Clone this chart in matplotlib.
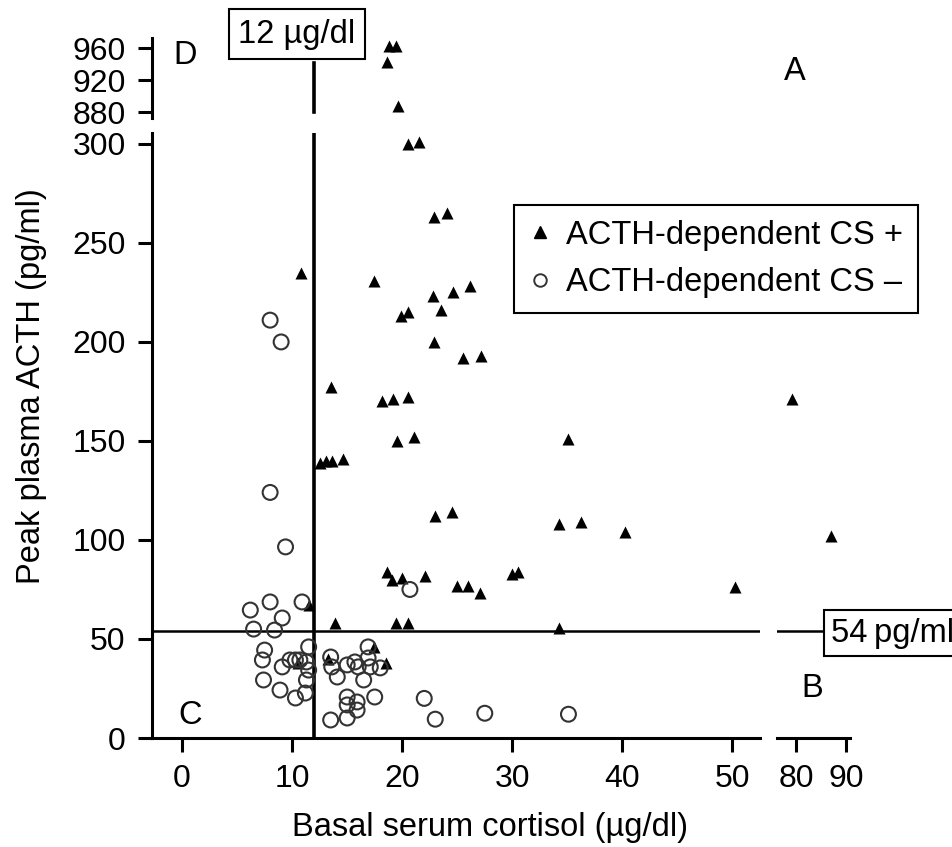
import matplotlib
matplotlib.use('Agg')
import matplotlib.pyplot as plt
from matplotlib.lines import Line2D

plt.rcParams['font.family'] = ['Liberation Sans', 'DejaVu Sans']

# ACTH-dependent CS + (filled triangles), basal cortisol (ug/dl) vs peak ACTH (pg/ml)
pos_x = [18.8, 19.4, 18.6, 19.6,
         20.5, 21.5, 22.9, 24.1, 10.8, 17.4, 26.2, 22.8, 24.6, 23.5, 19.9, 20.5,
         22.9, 25.5, 27.2, 13.5, 18.2, 19.2, 20.5, 19.5, 21.1,
         12.5, 13.1, 13.6, 14.6, 23.0, 24.5, 34.2, 36.2, 40.2, 50.2, 35.1,
         18.6, 19.1, 20.0, 22.1, 25.0, 26.0, 27.1, 30.0, 30.5,
         13.9, 19.4, 20.5, 34.2, 11.5, 17.4, 18.5, 13.3, 10.5,
         79.2, 87.0]
pos_y = [962, 962, 943, 887,
         300, 301, 263, 265, 235, 231, 228, 223, 225, 216, 213, 215,
         200, 192, 193, 177, 170, 171, 172, 150, 152,
         139, 140, 140, 141, 112, 114, 108, 109, 104, 76, 151,
         84, 80, 81, 82, 77, 77, 73, 83, 84,
         58, 58, 58, 55.5, 67, 46, 38, 40, 38,
         171, 102]

# ACTH-dependent CS - (open circles)
neg_x = [8.0, 9.0, 8.0, 9.4, 6.2, 8.0, 10.9, 9.1, 6.5, 8.4, 7.5, 7.3, 11.5,
         9.1, 9.8, 10.3, 10.7, 11.3, 7.4, 8.9, 10.3, 11.2, 11.3, 11.5,
         13.5, 13.6, 14.1, 15.0, 15.7, 16.0, 16.9, 16.9, 17.1, 18.0, 16.5, 17.5,
         15.0, 15.0, 15.9, 15.9, 15.0, 13.5, 20.7, 22.0, 23.0, 27.5, 35.1]
neg_y = [211, 200, 124, 96.5, 64.6, 68.7, 68.7, 60.6, 55, 54.5, 44.4, 39.4, 46,
         35.9, 39.4, 39.4, 39.4, 38.4, 29.3, 24.2, 20.2, 22.7, 29.3, 34.3,
         40.9, 35.9, 30.8, 36.9, 38.4, 35.9, 46, 40.4, 35.9, 35.4, 29.3, 20.7,
         20.7, 16.7, 18.2, 14.1, 10.1, 9.1, 75, 20, 9.5, 12.5, 12]

main_xticks = [0, 10, 20, 30, 40, 50]
right_xticks = [80, 90]
main_yticks = [0, 50, 100, 150, 200, 250, 300]
top_yticks = [880, 920, 960]
cortisol_cut = 12
acth_cut = 54

W, H = 953, 847
fig = plt.figure(figsize=(W / 100, H / 100), dpi=100)

def box(l, t, r, b):
    return [l / W, 1 - b / H, (r - l) / W, (b - t) / H]

ax = fig.add_axes(box(152, 133, 760, 738))
ax_top = fig.add_axes(box(152, 38, 760, 118))
ax_r = fig.add_axes(box(777, 133, 850, 738))

fs = 23.5
tri_kw = dict(marker='^', s=75, color='black', linewidths=0, zorder=3)
circ_kw = dict(marker='o', s=115, facecolors='none', edgecolors='#333333',
               linewidths=1.5, zorder=3)

for a in (ax, ax_top, ax_r):
    a.scatter(pos_x, pos_y, **tri_kw)
    a.scatter(neg_x, neg_y, **circ_kw)
    for s in a.spines.values():
        s.set_linewidth(2.2)
    a.spines['top'].set_visible(False)
    a.spines['right'].set_visible(False)
    a.tick_params(labelsize=23, length=10, width=2.2, pad=9)

ax.set_xlim(-2.73, 52.5)
ax.set_ylim(0, 305.5)
ax.set_xticks(main_xticks)
ax.set_yticks(main_yticks)

ax_top.set_xlim(-2.73, 52.5)
ax_top.set_ylim(872.5, 972.5)
ax_top.set_yticks(top_yticks)
ax_top.spines['bottom'].set_visible(False)
ax_top.set_xticks([])

ax_r.set_xlim(76.2, 90.8)
ax_r.set_ylim(0, 305.5)
ax_r.set_xticks(right_xticks)
ax_r.spines['left'].set_visible(False)
ax_r.set_yticks([])

# cut-off lines
ax.axvline(cortisol_cut, color='black', lw=2.6, zorder=2)
ax_top.plot([cortisol_cut, cortisol_cut], [880, 941], color='black', lw=2.6)
ax.axhline(acth_cut, color='black', lw=1.8, zorder=2)
ax_r.plot([76.2, 85.6], [acth_cut, acth_cut], color='black', lw=1.8)

fig.text(297 / W, 1 - 34 / H, '12 µg/dl', fontsize=fs, ha='center', va='center',
         bbox=dict(boxstyle='square,pad=0.28', fc='white', ec='black', lw=1.5))
fig.text(831 / W, 1 - 633 / H, '54\u2009pg/ml', fontsize=fs, ha='left', va='center',
         bbox=dict(boxstyle='square,pad=0.22', fc='white', ec='black', lw=1.5))

# quadrant letters
fig.text(185 / W, 1 - 55 / H, 'D', fontsize=fs, ha='center', va='center')
fig.text(795 / W, 1 - 72 / H, 'A', fontsize=fs, ha='center', va='center')
fig.text(190 / W, 1 - 715 / H, 'C', fontsize=fs, ha='center', va='center')
fig.text(812 / W, 1 - 688 / H, 'B', fontsize=fs, ha='center', va='center')

fig.text(32 / W, 1 - 386 / H, 'Peak plasma ACTH (pg/ml)', fontsize=fs, rotation=90,
         ha='center', va='center')
fig.text(490 / W, 1 - 827 / H, 'Basal serum cortisol (µg/dl)', fontsize=fs,
         ha='center', va='center')

handles = [Line2D([], [], marker='^', ls='none', color='black', markersize=9),
           Line2D([], [], marker='o', ls='none', mfc='none', mec='#333333', mew=1.4, markersize=9)]
leg = fig.legend(handles, ['ACTH-dependent CS +', 'ACTH-dependent CS \u2013'],
                 loc='upper left', bbox_to_anchor=(514 / W, 1 - 205 / H),
                 fontsize=fs, frameon=True, fancybox=False, edgecolor='black',
                 framealpha=1, handlelength=0.7, handletextpad=0.45,
                 borderpad=0.45, labelspacing=0.5, borderaxespad=0)
leg.get_frame().set_linewidth(1.5)

fig.savefig('out.png', dpi=100)
